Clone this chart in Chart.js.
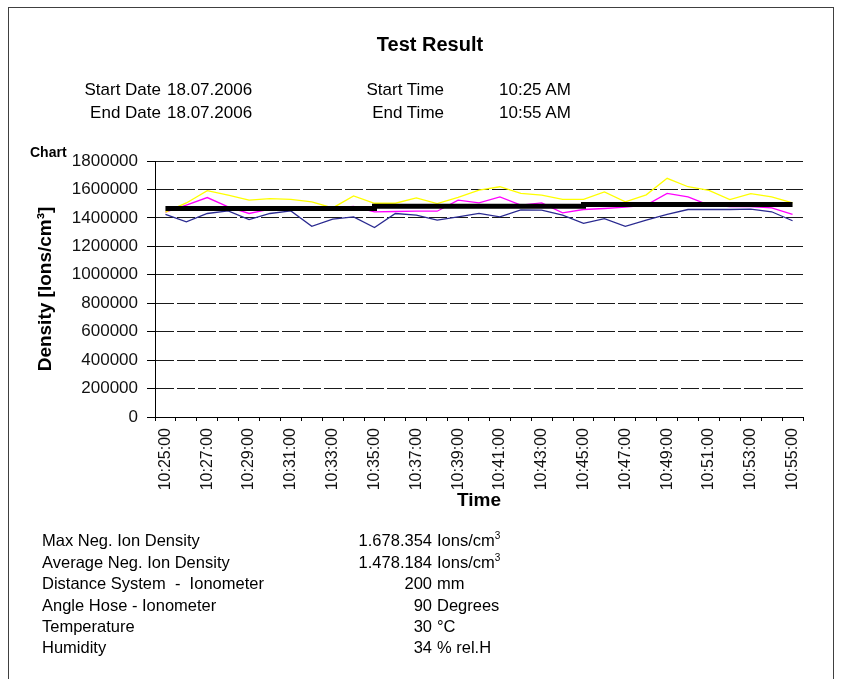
<!DOCTYPE html>
<html><head><meta charset="utf-8">
<script src="https://cdn.jsdelivr.net/npm/chart.js@4/dist/chart.umd.min.js"></script>
<style>
html,body{margin:0;padding:0;background:#fff;}
body{width:842px;height:679px;position:relative;overflow:hidden;font-family:"Liberation Sans",Arial,sans-serif;color:#000;}
#frame{position:absolute;left:8px;top:7px;width:824px;height:720px;border:1px solid #404040;}
#c{position:absolute;left:0;top:0;}
.t{position:absolute;white-space:nowrap;line-height:1;}
.r{text-align:right;}
.h{font-size:17px;}
.b{font-size:16.5px;}
sup{font-size:10px;line-height:0;vertical-align:7px;}
</style>
</head><body>
<div id="frame"></div>
<canvas id="c" width="842" height="679"></canvas>

<div class="t" style="left:0;width:860px;text-align:center;top:34px;font-size:20px;font-weight:bold;">Test Result</div>
<div class="t h" style="right:681px;top:81px;">Start Date</div>
<div class="t h" style="left:167px;top:81px;">18.07.2006</div>
<div class="t h" style="right:398px;top:81px;">Start Time</div>
<div class="t h" style="left:499px;top:81px;">10:25 AM</div>
<div class="t h" style="right:681px;top:104px;">End Date</div>
<div class="t h" style="left:167px;top:104px;">18.07.2006</div>
<div class="t h" style="right:398px;top:104px;">End Time</div>
<div class="t h" style="left:499px;top:104px;">10:55 AM</div>
<div class="t" style="left:30px;top:145px;font-size:14px;font-weight:bold;">Chart</div>

<div class="t b" style="left:42px;top:532px;">Max Neg. Ion Density</div>
<div class="t b r" style="right:410px;top:532px;">1.678.354</div>
<div class="t b" style="left:437px;top:532px;">Ions/cm<sup>3</sup></div>
<div class="t b" style="left:42px;top:554px;">Average Neg. Ion Density</div>
<div class="t b r" style="right:410px;top:554px;">1.478.184</div>
<div class="t b" style="left:437px;top:554px;">Ions/cm<sup>3</sup></div>
<div class="t b" style="left:42px;top:575px;">Distance System &nbsp;- &nbsp;Ionometer</div>
<div class="t b r" style="right:410px;top:575px;">200</div>
<div class="t b" style="left:437px;top:575px;">mm</div>
<div class="t b" style="left:42px;top:597px;">Angle Hose - Ionometer</div>
<div class="t b r" style="right:410px;top:597px;">90</div>
<div class="t b" style="left:437px;top:597px;">Degrees</div>
<div class="t b" style="left:42px;top:618px;">Temperature</div>
<div class="t b r" style="right:410px;top:618px;">30</div>
<div class="t b" style="left:437px;top:618px;">°C</div>
<div class="t b" style="left:42px;top:639px;">Humidity</div>
<div class="t b r" style="right:410px;top:639px;">34</div>
<div class="t b" style="left:437px;top:639px;">% rel.H</div>

<script>
const timeLabels = ['10:25:00','10:26:00','10:27:00','10:28:00','10:29:00','10:30:00','10:31:00','10:32:00','10:33:00','10:34:00','10:35:00','10:36:00','10:37:00','10:38:00','10:39:00','10:40:00','10:41:00','10:42:00','10:43:00','10:44:00','10:45:00','10:46:00','10:47:00','10:48:00','10:49:00','10:50:00','10:51:00','10:52:00','10:53:00','10:54:00','10:55:00'];
const yellowSeries = [1440000,1505000,1592000,1560000,1525000,1535000,1530000,1512000,1470000,1555000,1503000,1503000,1541000,1501000,1545000,1596000,1619000,1572000,1560000,1530000,1530000,1582000,1513000,1562000,1678354,1619000,1593000,1528000,1570000,1548000,1506000];
const magentaSeries = [1440000,1490000,1543000,1478000,1431000,1462000,1470000,1475000,1468000,1480000,1442000,1445000,1447000,1447000,1525000,1505000,1548000,1490000,1506000,1435000,1459000,1466000,1475000,1490000,1572000,1548000,1490000,1480000,1480000,1470000,1425000];
const blueSeries = [1424000,1372000,1431000,1449000,1388000,1431000,1449000,1341000,1392000,1407000,1332000,1431000,1419000,1384000,1407000,1431000,1407000,1456000,1454000,1419000,1362000,1395000,1341000,1384000,1425000,1459000,1459000,1459000,1462000,1443000,1380000];
const averageSeries = [1466000,1466000,1466000,1466000,1466000,1466000,1466000,1466000,1466000,1466000,1482000,1482000,1482000,1482000,1482000,1482000,1482000,1482000,1482000,1482000,1494000,1494000,1494000,1494000,1494000,1494000,1494000,1494000,1494000,1494000,1494000];
const yMin = 0, yMax = 1800000, yStep = 200000;

const FONT = 'Liberation Sans';
const chart = new Chart(document.getElementById('c'), {
  type: 'line',
  data: {
    labels: timeLabels,
    datasets: [
      {label:'Average', data: averageSeries, borderColor:'#000000', borderWidth:5, stepped:'before', pointRadius:0, fill:false},
      {label:'Series 1', data: yellowSeries, borderColor:'#FFFF00', borderWidth:1.3, pointRadius:0, tension:0, fill:false},
      {label:'Series 2', data: magentaSeries, borderColor:'#FF00FF', borderWidth:1.3, pointRadius:0, tension:0, fill:false},
      {label:'Series 3', data: blueSeries, borderColor:'#2A2A90', borderWidth:1.3, pointRadius:0, tension:0, fill:false}
    ]
  },
  options: {
    responsive:false, animation:false, devicePixelRatio:1,
    layout:{padding:{left:34, top:161, right:39, bottom:167}},
    plugins:{legend:{display:false}, tooltip:{enabled:false}, title:{display:false}},
    scales:{
      x:{
        offset:true,
        grid:{offset:true, drawOnChartArea:false, drawTicks:true, tickLength:4, color:'#000'},
        border:{display:true, color:'#000', width:1},
        ticks:{autoSkip:false, minRotation:90, maxRotation:90, padding:7, color:'#111', font:{family:FONT, size:16},
          callback:(v,i)=> i%2===0 ? timeLabels[i] : ''},
        title:{display:true, text:'Time', color:'#000', font:{family:FONT, size:19, weight:'bold'}, padding:0},
        afterFit:(s)=>{ s.height = 95; }
      },
      y:{
        min:yMin, max:yMax,
        ticks:{stepSize:yStep, padding:9, color:'#111', font:{family:FONT, size:17}, callback:(v)=>String(v)},
        grid:{color:'#1a1a1a', lineWidth:1, tickLength:8, tickColor:'#000'},
        border:{display:true, color:'#000', width:1, dash:[18,3]},
        title:{display:true, text:'Density [Ions/cm³]', color:'#000', font:{family:FONT, size:19, weight:'bold'}, padding:0},
        afterFit:(s)=>{ s.width = 121; }
      }
    }
  }
});
</script>
</body></html>
